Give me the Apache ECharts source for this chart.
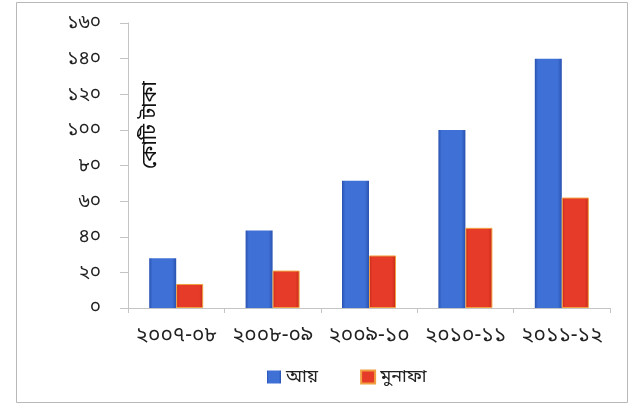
<!DOCTYPE html>
<html>
<head>
<meta charset="utf-8">
<script src="https://cdn.jsdelivr.net/npm/echarts@6/dist/echarts.min.js"></script>
<style>
html,body{margin:0;padding:0;background:#fff;}
#c{width:633px;height:405px;}
</style>
</head>
<body>
<div id="c"></div>
<script>
var categories = ['২০০৭-০৮', '২০০৮-০৯', '২০০৯-১০', '২০১০-১১', '২০১১-১২'];
var incomeValues = [28, 43.5, 71.5, 100, 140];
var profitValues = [13.5, 21, 29.5, 45, 62];
var yTickLabels = ['০', '২০', '৪০', '৬০', '৮০', '১০০', '১২০', '১৪০', '১৬০'];
var seriesNames = ['আয়', 'মুনাফা'];
var yAxisTitle = 'কোটি টাকা';

var FONT = '"Noto Sans", "Noto Sans Bengali", sans-serif';

function grad(edge, mid) {
  return new echarts.graphic.LinearGradient(0, 0, 1, 0, [
    {offset: 0, color: edge},
    {offset: 0.12, color: mid},
    {offset: 0.85, color: mid},
    {offset: 1, color: edge}
  ]);
}

var chart = echarts.init(document.getElementById('c'));
chart.setOption({
  backgroundColor: '#fff',
  animation: false,
  grid: {left: 128, right: 23, top: 23, bottom: 97, containLabel: false},
  legend: {
    data: seriesNames,
    top: 363,
    left: 262,
    itemWidth: 14,
    itemHeight: 13,
    itemGap: 42,
    icon: 'rect',
    textStyle: {fontFamily: FONT, fontSize: 18, color: '#222'}
  },
  graphic: [
    {type: 'rect', shape: {x: 16.5, y: 2.5, width: 611, height: 400},
     style: {fill: 'none', stroke: '#b8b8b8', lineWidth: 1}, silent: true},
    {type: 'text', x: 150, y: 125, rotation: Math.PI / 2,
     style: {text: yAxisTitle, font: '20px ' + FONT, fill: '#111', align: 'center', verticalAlign: 'middle'}}
  ],
  xAxis: {
    type: 'category',
    data: categories,
    axisLine: {lineStyle: {color: '#c4c4c4'}},
    axisTick: {show: true, length: 5, lineStyle: {color: '#c4c4c4'}},
    axisLabel: {fontFamily: FONT, fontSize: 21, color: '#222', margin: 17, interval: 0}
  },
  yAxis: {
    type: 'value',
    min: 0, max: 160, interval: 20,
    axisLine: {show: true, lineStyle: {color: '#c4c4c4'}},
    axisTick: {show: true, length: 8, lineStyle: {color: '#c4c4c4'}},
    splitLine: {show: false},
    axisLabel: {
      fontFamily: FONT, fontSize: 19, color: '#222', margin: 27,
      formatter: function (v) { return yTickLabels[Math.round(v / 20)]; }
    }
  },
  series: [
    {
      name: seriesNames[0], type: 'bar', data: incomeValues, barWidth: 27, barGap: '0%',
      itemStyle: {color: grad('#2a52b0', '#3e70d6')}
    },
    {
      name: seriesNames[1], type: 'bar', data: profitValues, barWidth: 27,
      itemStyle: {color: grad('#c42818', '#e63b28'), borderColor: '#f0a040', borderWidth: 1}
    }
  ]
});
</script>
</body>
</html>
